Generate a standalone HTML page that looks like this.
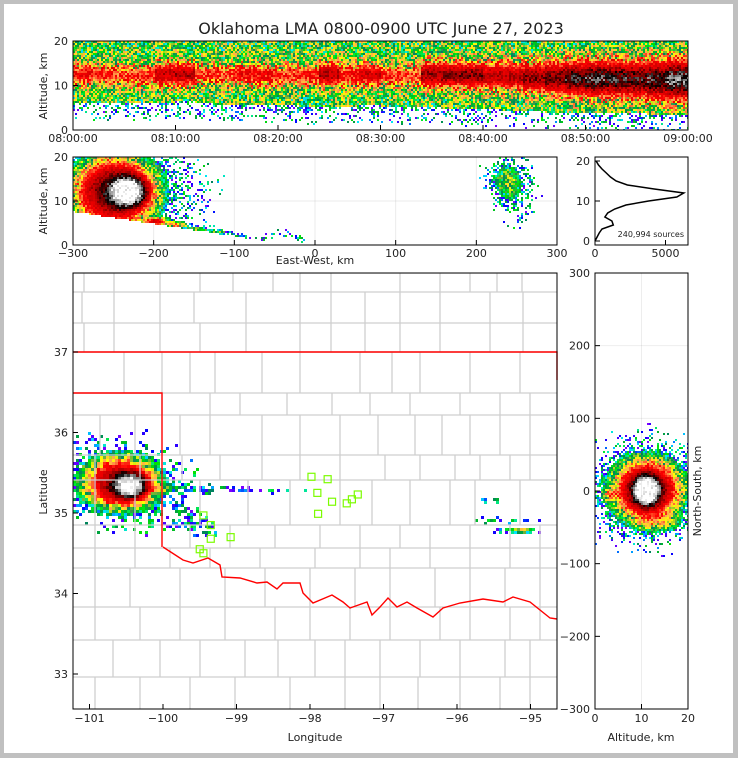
<!DOCTYPE html>
<html><head><meta charset="utf-8"><style>
html,body{margin:0;padding:0;background:#c0c0c0;}
#frame{position:absolute;left:4px;top:4px;width:729px;height:749px;background:#fff;}
canvas{position:absolute;image-rendering:pixelated;}
svg{position:absolute;left:0;top:0;}
text{font-family:"DejaVu Sans","Liberation Sans",sans-serif;font-size:11px;fill:#222;}
</style></head><body>
<div id="frame"></div>
<canvas id="cTH" style="left:73px;top:41px" width="615" height="89"></canvas>
<canvas id="cEW" style="left:73px;top:157px" width="484" height="88"></canvas>
<canvas id="cMap" style="left:73px;top:273px" width="484" height="436"></canvas>
<canvas id="cNS" style="left:595px;top:273px" width="93" height="436"></canvas>
<svg id="ov" width="738" height="758"></svg>
<script>
// ---------- DATA ----------
const timeBinMinutes=[0,2,4,6,8,10,12,14,16,18,20,22,24,26,28,30,32,34,36,38,40,42,44,46,48,50,52,54,56,58];
const bandBottomKm=[6,6,6,6,6.2,6.3,6,5.8,5.6,5.5,5.4,5.3,5.2,5.2,5.4,5.3,5.2,5,4.8,4.6,4.6,4.4,4.2,4.0,4.0,3.8,3.8,3.6,3.5,3.5];
const coreAltKm=[12.5,12.5,12.3,12.2,12.5,12.5,12.4,12.3,12.5,12.3,12.2,12.2,12.5,12.3,12.4,12.2,12.2,12.5,12.4,12.3,12.2,12.0,11.8,11.8,11.6,11.5,11.5,11.4,11.3,11.3];
const coreStrength=[0.45,0.42,0.38,0.42,0.6,0.62,0.4,0.38,0.48,0.45,0.38,0.42,0.62,0.45,0.55,0.42,0.38,0.66,0.7,0.72,0.6,0.62,0.7,0.76,0.85,0.9,0.86,0.82,0.88,0.95];
const coreWidthKm=[2.5,2.5,2.5,2.5,2.7,2.7,2.5,2.5,2.5,2.5,2.5,2.5,2.8,2.6,2.6,2.6,2.6,3,3,3,3.2,3.2,3.4,3.6,3.8,4,4,4.2,4.4,4.5];

const ewBlobX=[-250,-228,-240,235,250,-195,-170,-145,-120,-95,-70,-45,-20];
const ewBlobAlt=[12,12.2,12.5,15,12,5.3,4.5,3.6,2.8,1.9,1.4,2.6,1.4];
const ewBlobSX=[52,24,85,22,22,14,14,14,14,14,14,15,8];
const ewBlobSZ=[8.5,3.6,11,5,6,0.9,0.8,0.7,0.7,0.6,0.6,1.0,1.0];
const ewBlobPeak=[0.6,0.38,0.2,0.22,0.14,0.45,0.38,0.32,0.28,0.22,0.15,0.12,0.12];

const mapBlobLon=[-100.58,-100.42,-100.55,-99.6,-99.0,-98.4,-99.65,-99.45,-95.4,-95.5,-95.15];
const mapBlobLat=[35.37,35.33,35.38,35.3,35.3,35.27,34.95,34.8,34.92,35.15,34.78];
const mapBlobSLon=[0.52,0.24,0.78,0.35,0.35,0.35,0.2,0.15,0.4,0.2,0.25];
const mapBlobSLat=[0.34,0.16,0.46,0.05,0.035,0.03,0.18,0.12,0.04,0.03,0.03];
const mapBlobPeak=[0.6,0.34,0.16,0.16,0.14,0.12,0.14,0.12,0.2,0.18,0.42];

const nsBlobAlt=[11.5,11,10,3,14];
const nsBlobNS=[2,0,0,-5,-45];
const nsBlobSA=[8,3,10,1.5,6];
const nsBlobSNS=[44,22,64,8,12];
const nsBlobPeak=[0.6,0.36,0.18,0.18,0.16];

const stationLon=[-97.98,-97.76,-97.9,-97.7,-97.5,-97.35,-97.43,-97.89,-99.45,-99.35,-99.35,-99.08,-99.5,-99.45];
const stationLat=[35.45,35.42,35.25,35.14,35.12,35.23,35.17,34.99,34.97,34.85,34.68,34.7,34.55,34.5];

const histAltKm=[0,1,2,3,4,5,6,7,8,9,10,11,12,13,14,15,16,17,18,19,20];
const histCounts=[0,150,300,500,1300,1200,700,900,1400,2200,3800,5800,6300,4200,2300,1500,1100,800,500,250,80];

const timeTickLabels=["08:00:00","08:10:00","08:20:00","08:30:00","08:40:00","08:50:00","09:00:00"];
const ewTicks=[-300,-200,-100,0,100,200,300];
const lonTicks=[-101,-100,-99,-98,-97,-96,-95];
const latTicks=[33,34,35,36,37];
const nsTicks=[-300,-200,-100,0,100,200,300];

// ---------- helpers ----------
const NS="http://www.w3.org/2000/svg";
const ov=document.getElementById('ov');
function mk(tag,attrs,parent){const e=document.createElementNS(NS,tag);for(const k in attrs)e.setAttribute(k,attrs[k]);(parent||ov).appendChild(e);return e;}
function txt(x,y,s,anchor,extra){const t=mk('text',Object.assign({x:x,y:y,'text-anchor':anchor||'middle'},extra||{}));t.textContent=s;return t;}
const stops=[[0,[127,0,255]],[0.08,[0,0,255]],[0.15,[0,230,255]],[0.22,[0,230,0]],[0.3,[0,128,96]],[0.38,[255,255,0]],[0.46,[255,165,80]],[0.56,[255,0,0]],[0.68,[200,0,0]],[0.78,[90,0,0]],[0.84,[0,0,0]],[0.9,[128,128,128]],[1.0,[255,255,255]]];
function cmap(v){v=Math.max(0,Math.min(1,v));for(let i=1;i<stops.length;i++){if(v<=stops[i][0]){const a=stops[i-1],b=stops[i];const f=(v-a[0])/(b[0]-a[0]);return a[1].map((c,j)=>Math.round(c+(b[1][j]-c)*f));}}return [255,255,255];}
function hash(a,b){let h=(a*374761393+b*668265263)|0;h=(h^(h>>>13))*1274126177|0;h=h^(h>>>16);return ((h>>>0)%10000)/10000;}
function blob(dx,dy,sx,sy,p){const r2=(dx/sx)**2+(dy/sy)**2;return p*Math.exp(-Math.pow(r2,1.3));}
function paint(id,cw,ch,fn,noise){const c=document.getElementById(id),ctx=c.getContext('2d');const W=c.width,H=c.height;
 for(let y=0;y<H;y+=ch)for(let x=0;x<W;x+=cw){let I=fn(x+cw/2,y+ch/2);if(I<=0.01)continue;const h=hash(x+id.length*97,y);
  if(I<0.2){if(h>I*3.5)continue;I=hash(y,x)*0.3;}else{I+=(h-0.5)*noise*(I<0.5?1:0.5);}
  const c3=cmap(I);ctx.fillStyle='rgb('+c3.join(',')+')';ctx.fillRect(x,y,cw,ch);}}

// ---------- scales ----------
const thX=m=>73+m/60*615, thY=z=>130-z*4.45;
const ewX=v=>315+v*0.8067, ewY=z=>245-z*4.4;
const lonX=l=>89.5+(l+101)*73.5, latY=l=>352+(37-l)*80.5;
const altX=z=>595+z*4.65, nsY=v=>491-v*0.7267;
const hX=c=>595+c*0.0141, hY=z=>241-z*4.0;

// ---------- time-height ----------
paint('cTH',2,2,(px,py)=>{const m=px/615*60;const b=Math.min(29,Math.floor(m/2));const z=(89-py)/4.45;
 const bot=bandBottomKm[b];
 if(z<bot){return (z>bot-4)?0.1*(1-(bot-z)/4)+0.03:0;}
 return 0.3+0.62*coreStrength[b]*Math.exp(-(((z-coreAltKm[b])/coreWidthKm[b])**2));
},0.32);
// ---------- east-west ----------
paint('cEW',2,2,(px,py)=>{const v=(px-242)/0.8067, z=(88-py)/4.4;let I=0;
 for(let i=0;i<ewBlobX.length;i++)I+=blob(v-ewBlobX[i],z-ewBlobAlt[i],ewBlobSX[i],ewBlobSZ[i],ewBlobPeak[i]);
 const cut=8*(-15-v)/285; if(v<0&&z<cut-0.4)I=0;
 return Math.min(I,1.02);},0.22);
// ---------- map ----------
paint('cMap',3,3,(px,py)=>{const lon=-101+(px+73-89.5)/73.5, lat=37-(py+273-352)/80.5;let I=0;
 for(let i=0;i<mapBlobLon.length;i++)I+=blob(lon-mapBlobLon[i],lat-mapBlobLat[i],mapBlobSLon[i],mapBlobSLat[i],mapBlobPeak[i]);
 return Math.min(I,1.02);},0.22);
// ---------- north-south ----------
paint('cNS',2,2,(px,py)=>{const z=px/4.65, v=(218-py)/0.7267;let I=0;
 for(let i=0;i<nsBlobAlt.length;i++)I+=blob(z-nsBlobAlt[i],v-nsBlobNS[i],nsBlobSA[i],nsBlobSNS[i],nsBlobPeak[i]);
 return Math.min(I,1.02);},0.22);

// ---------- SVG: title ----------
const title=txt(381,34,"Oklahoma LMA 0800-0900 UTC June 27, 2023",'middle',{style:'font-size:16px'});


// ---------- time-height axes ----------
const gTH=mk('g',{});
mk('rect',{x:73,y:41,width:615,height:89,fill:'none',stroke:'#000','stroke-width':1},gTH);
timeTickLabels.forEach((s,i)=>{const x=thX(i*10);mk('line',{x1:x,x2:x,y1:130,y2:125,stroke:'#000'},gTH);gTH.appendChild(txt(x,142,s));});
[0,10,20].forEach(z=>{mk('line',{x1:73,x2:78,y1:thY(z),y2:thY(z),stroke:'#000'},gTH);gTH.appendChild(txt(68,thY(z)+4,String(z),'end'));});
const yl1=txt(47,86,"Altitude, km",'middle',{transform:'rotate(-90 47 86)'});

// ---------- EW axes ----------
const gEW=mk('g',{});
ewTicks.forEach(v=>{const x=ewX(v);if(v>-300&&v<300)mk('line',{x1:x,x2:x,y1:157,y2:245,stroke:'#000','stroke-opacity':0.08},gEW);});
mk('line',{x1:73,x2:557,y1:ewY(10),y2:ewY(10),stroke:'#000','stroke-opacity':0.08},gEW);
mk('rect',{x:73,y:157,width:484,height:88,fill:'none',stroke:'#000'},gEW);
ewTicks.forEach(v=>{const x=ewX(v);mk('line',{x1:x,x2:x,y1:245,y2:240,stroke:'#000'},gEW);gEW.appendChild(txt(x,257,String(v).replace('-','\u2212')));});
[0,10,20].forEach(z=>{mk('line',{x1:73,x2:78,y1:ewY(z),y2:ewY(z),stroke:'#000'},gEW);gEW.appendChild(txt(68,ewY(z)+4,String(z),'end'));});
const ewx=txt(315,264,"East-West, km");
const yl2=txt(47,201,"Altitude, km",'middle',{transform:'rotate(-90 47 201)'});

// ---------- histogram ----------
const gH=mk('g',{});
mk('rect',{x:595,y:157,width:93,height:88,fill:'none',stroke:'#000'},gH);
const hp=histAltKm.map((z,i)=>hX(histCounts[i]).toFixed(1)+','+hY(z).toFixed(1)).join(' ');
const hl=mk('polyline',{points:hp,fill:'none',stroke:'#000','stroke-width':1.5},gH);
[0,10,20].forEach(z=>{mk('line',{x1:595,x2:600,y1:hY(z),y2:hY(z),stroke:'#000'},gH);gH.appendChild(txt(590,hY(z)+4,String(z),'end'));});
[0,5000].forEach(c=>{mk('line',{x1:hX(c),x2:hX(c),y1:245,y2:240,stroke:'#000'},gH);gH.appendChild(txt(hX(c),257,String(c)));});
const src=txt(684,237,"240,994 sources",'end',{style:'font-size:8px'});

// ---------- map ----------
const gM=mk('g',{});
const clip=mk('clipPath',{id:'mclip'});mk('rect',{x:73,y:273,width:484,height:436},clip);
const gC=mk('g',{'clip-path':'url(#mclip)',stroke:'#cfcfcf','stroke-width':1.3,fill:'none'},gM);
const rowsY=[273,292,323,352,393,415,455,480,525,548,568,607,640,677,709];
const colsX=[[84,114,160,200,233,273,300,331,400,440,470,497,522],[82,114,160,194,246,300,331,365,400,440,490,523],[84,114,160,200,246,300,331,365,400,440,490,523],[124,162,190,215,262,300,360,392,420,470,520],[162,210,240,287,332,370,410,460,500,530],[100,135,180,210,262,300,340,378,415,442,470,500,530],[95,140,182,220,262,300,340,385,420,455,480,510,530],[95,135,162,200,248,290,340,372,410,450,475,520],[95,135,190,230,275,320,360,400,430,470,510,540],[95,135,170,210,260,315,360,390,430,470,510,540],[95,130,180,225,265,310,355,390,435,470,505,540],[95,140,180,225,275,310,350,390,440,470,510,540],[113,160,200,245,278,315,345,380,420,460,505,530],[95,140,190,235,290,345,380,418,460,500,530]];
for(let r=0;r<rowsY.length-1;r++){mk('line',{x1:73,x2:557,y1:rowsY[r],y2:rowsY[r]},gC);colsX[r].forEach(x=>mk('line',{x1:x,x2:x,y1:rowsY[r],y2:rowsY[r+1]},gC));}
const rrPx=[[163,547],[183,560],[193,563],[208,558],[220,565],[222,577],[240,578],[257,583],[267,582],[277,589],[283,583],[300,583],[303,593],[313,603],[332,595],[343,602],[350,608],[367,602],[372,615],[380,607],[388,598],[397,607],[407,602],[417,608],[433,617],[443,608],[460,603],[483,599],[503,602],[513,597],[530,602],[550,618],[557,619]];
const okPts=[[73,352],[557,352],[557,380]];
const gB=mk('g',{fill:'none',stroke:'#f00','stroke-width':1.4},gM);
mk('polyline',{points:okPts.map(p=>p.join(',')).join(' ')},gB);
mk('polyline',{points:'73,393 162,393 162,547'},gB);
mk('polyline',{points:rrPx.map(p=>p.join(',')).join(' ')},gB);
const gS=mk('g',{fill:'none',stroke:'#7cfc00','stroke-width':1.2},gM);
stationLon.forEach((l,i)=>{const r=mk('rect',{x:lonX(l)-3.5,y:latY(stationLat[i])-3.5,width:7,height:7},gS);});
mk('rect',{x:73,y:273,width:484,height:436,fill:'none',stroke:'#000'},gM);
lonTicks.forEach(l=>{const x=lonX(l);mk('line',{x1:x,x2:x,y1:709,y2:704,stroke:'#000'},gM);gM.appendChild(txt(x,722,String(l).replace('-','\u2212')));});
latTicks.forEach(l=>{const y=latY(l);mk('line',{x1:73,x2:78,y1:y,y2:y,stroke:'#000'},gM);gM.appendChild(txt(68,y+4,String(l),'end'));});
const lx=txt(315,741,"Longitude");
const ly=txt(47,492,"Latitude",'middle',{transform:'rotate(-90 47 492)'});

// ---------- NS panel ----------
const gN=mk('g',{});
mk('line',{x1:altX(10),x2:altX(10),y1:273,y2:709,stroke:'#000','stroke-opacity':0.07},gN);
[100,200].forEach(v=>mk('line',{x1:595,x2:688,y1:nsY(v),y2:nsY(v),stroke:'#000','stroke-opacity':0.07},gN));
mk('rect',{x:595,y:273,width:93,height:436,fill:'none',stroke:'#000'},gN);
nsTicks.forEach(v=>{const y=nsY(v);mk('line',{x1:595,x2:600,y1:y,y2:y,stroke:'#000'},gN);gN.appendChild(txt(590,y+4,String(v).replace('-','\u2212'),'end'));});
[0,10,20].forEach(z=>{mk('line',{x1:altX(z),x2:altX(z),y1:709,y2:704,stroke:'#000'},gN);gN.appendChild(txt(altX(z),722,String(z)));});
const ax=txt(641,741,"Altitude, km");
const nt=txt(701,491,"North-South, km",'middle',{transform:'rotate(-90 701 491)'});
</script>
</body></html>
